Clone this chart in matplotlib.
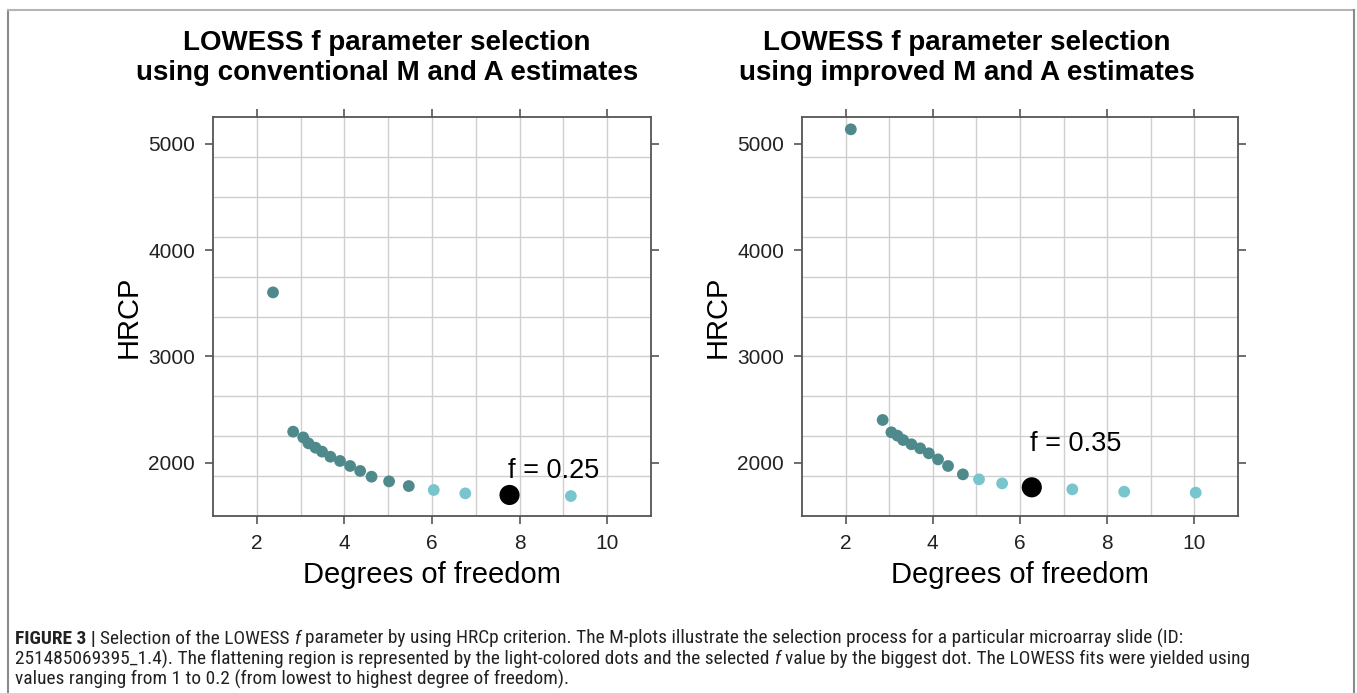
import matplotlib
matplotlib.use("Agg")
import matplotlib.pyplot as plt
from matplotlib.lines import Line2D
from matplotlib import font_manager

# ---------------- data ----------------
f_values = [1.0, 0.95, 0.9, 0.85, 0.8, 0.75, 0.7, 0.65, 0.6, 0.55,
            0.5, 0.45, 0.4, 0.35, 0.3, 0.25, 0.2]

df_conv = [2.37, 2.83, 3.06, 3.18, 3.34, 3.49, 3.68, 3.90, 4.13, 4.36,
           4.62, 5.02, 5.47, 6.04, 6.76, 7.77, 9.17]
hrcp_conv = [3603, 2292, 2238, 2182, 2141, 2104, 2056, 2016, 1969, 1922,
             1868, 1824, 1780, 1743, 1711, 1696, 1686]
group_conv = ["dark"] * 13 + ["light", "light", "selected", "light"]

df_impr = [2.12, 2.85, 3.05, 3.19, 3.32, 3.51, 3.71, 3.91, 4.12, 4.35,
           4.69, 5.06, 5.59, 6.27, 7.20, 8.39, 10.03]
hrcp_impr = [5138, 2402, 2286, 2254, 2213, 2173, 2135, 2088, 2031, 1969,
             1890, 1843, 1805, 1768, 1749, 1727, 1718]
group_impr = ["dark"] * 11 + ["light", "light", "selected", "light", "light", "light"]

titles = ["LOWESS f parameter selection\nusing conventional M and A estimates",
          "LOWESS f parameter selection\nusing improved M and A estimates"]
x_label = "Degrees of freedom"
y_label = "HRCP"
x_ticks = [2, 4, 6, 8, 10]
y_ticks = [2000, 3000, 4000, 5000]

# caption lines as (text, style) segments; segments are joined by one space
caption_lines = [
    [("FIGURE 3 |", "bold"), ("Selection of the LOWESS", "normal"), ("f", "italic"),
     ("parameter by using HRCp criterion. The M-plots illustrate the selection process for a particular microarray slide (ID:", "normal")],
    [("251485069395_1.4). The flattening region is represented by the light-colored dots and the selected", "normal"),
     ("f", "italic"),
     ("value by the biggest dot. The LOWESS fits were yielded using", "normal")],
    [("values ranging from 1 to 0.2 (from lowest to highest degree of freedom).", "normal")],
]

# ---------------- fonts ----------------
available = {f.name for f in font_manager.fontManager.ttflist}
cap_font = "Liberation Sans"
for cand in ["Liberation Sans Narrow", "Roboto Condensed", "Open Sans Condensed"]:
    if cand in available:
        cap_font = cand
        break

plt.rcParams["font.family"] = ["Liberation Sans", "DejaVu Sans"]

COLORS = {"dark": "#4E8A8C", "light": "#78C5CE", "selected": "#000000"}
SIZES = {"dark": 72, "light": 72, "selected": 210}
SPINE = "#555555"
GRID = "#cfcfcf"

W, H = 1357, 693
fig = plt.figure(figsize=(W / 100, H / 100), dpi=100)

def fx(px):
    return px / W

def fy(py):
    return 1 - py / H

panels = [
    dict(x0=213, x1=651, df=df_conv, y=hrcp_conv, g=group_conv, title_x=387,
         label_off=12),
    dict(x0=802, x1=1238, df=df_impr, y=hrcp_impr, g=group_impr, title_x=967,
         label_off=26),
]
top, bottom = 117, 516
xlim = (1, 11)
ylim = (1498, 5254)

for p, title in zip(panels, titles):
    ax = fig.add_axes([fx(p["x0"]), fy(bottom), (p["x1"] - p["x0"]) / W,
                       (bottom - top) / H])
    ax.set_xlim(*xlim)
    ax.set_ylim(*ylim)
    # lattice-like grid: vertical at every unit, horizontal at 10 equal divisions
    for gx in range(2, 11):
        ax.axvline(gx, color=GRID, lw=1.0, zorder=0)
    for k in range(1, 10):
        ax.axhline(ylim[0] + k * (ylim[1] - ylim[0]) / 10, color=GRID, lw=1.0,
                   zorder=0)
    for grp in ["dark", "light", "selected"]:
        xs = [d for d, g in zip(p["df"], p["g"]) if g == grp]
        ys = [v for v, g in zip(p["y"], p["g"]) if g == grp]
        ax.scatter(xs, ys, s=SIZES[grp], color=COLORS[grp], edgecolors="none",
                   zorder=3)
    # annotation of the selected f
    idx = p["g"].index("selected")
    ax.annotate("f = %.2f" % f_values[idx], (p["df"][idx], p["y"][idx]),
                xytext=(-1, p["label_off"]), textcoords="offset points",
                ha="left", va="baseline", fontsize=19.5, color="black")
    for s in ax.spines.values():
        s.set_color(SPINE)
        s.set_linewidth(1.3)
    ax.set_xticks(x_ticks)
    ax.set_yticks(y_ticks)
    ax.tick_params(direction="out", length=6, width=1.2, color=SPINE,
                   labelsize=15, labelcolor="#222222", pad=7,
                   top=True, right=True, labeltop=False, labelright=False)
    ax.set_xlabel(x_label, fontsize=21, labelpad=6)
    ax.set_ylabel(y_label, fontsize=21, labelpad=4)
    fig.text(fx(p["title_x"]), fy(58), title, ha="center", va="center",
             fontsize=20, fontweight="bold", linespacing=1.15)

# figure frame (open at bottom)
frame_kw = dict(transform=fig.transFigure, lw=1.5)
fig.add_artist(Line2D([fx(8), fx(8)], [fy(10), 0], color="#8a8a8a", **frame_kw))
fig.add_artist(Line2D([fx(8), fx(1354)], [fy(10), fy(10)], color="#b5b5b5", **frame_kw))
fig.add_artist(Line2D([fx(1354), fx(1354)], [fy(10), 0], color="#8a8a8a", **frame_kw))

# ---------------- caption ----------------
renderer = fig.canvas.get_renderer()

def seg_kwargs(style, size):
    kw = dict(fontsize=size, family=[cap_font, "DejaVu Sans"], color="#222222",
              ha="left", va="baseline")
    if style == "bold":
        kw["fontweight"] = "bold"
    elif style == "italic":
        kw["fontstyle"] = "italic"
    return kw

def measure(s, style, size):
    t = fig.text(0, 0, s, **seg_kwargs(style, size))
    w = t.get_window_extent(renderer).width
    t.remove()
    return w

def line_width(segs, size):
    sp = measure("x x", "normal", size) - measure("xx", "normal", size)
    return sum(measure(s, st, size) for s, st in segs) + sp * (len(segs) - 1), sp

base = 12.0
w_line2, _ = line_width(caption_lines[1], base)
cap_size = base * 1235 / w_line2

for i, segs in enumerate(caption_lines):
    _, sp = line_width(segs, cap_size)
    x = 15.0
    y_base = 644 + 20.5 * i
    for s, st in segs:
        fig.text(fx(x), fy(y_base), s, **seg_kwargs(st, cap_size))
        x += measure(s, st, cap_size) + sp

fig.savefig("out.png", dpi=100)
